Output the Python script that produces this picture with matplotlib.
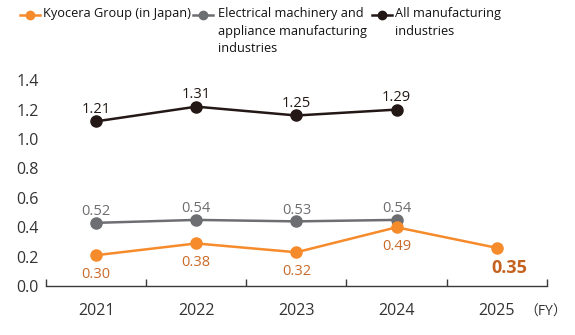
import matplotlib
matplotlib.use("Agg")
import matplotlib.pyplot as plt
from matplotlib.lines import Line2D
from matplotlib.transforms import blended_transform_factory
import numpy as np

plt.rcParams['font.family'] = ['Open Sans', 'Noto Sans CJK JP', 'DejaVu Sans']

years = ["2021", "2022", "2023", "2024", "2025"]
kyocera = [0.30, 0.38, 0.32, 0.49, 0.35]
electrical = [0.52, 0.54, 0.53, 0.54]
all_mfg = [1.21, 1.31, 1.25, 1.29]
yticks = [0.0, 0.2, 0.4, 0.6, 0.8, 1.0, 1.2, 1.4]

ORANGE = "#F68B2C"
ORANGE_TXT = "#C96A2A"
GRAY = "#6D6E71"
BLACK = "#231815"

# tick labels sit a little below the values they mark on this axis
shift = 0.09

fig = plt.figure(figsize=(5.75, 3.35), dpi=100)
ax = fig.add_axes([0.08, 0.146, 0.871, 0.63])

x = np.arange(len(years))
ax.plot(x[:len(all_mfg)], all_mfg, color=BLACK, lw=1.8, marker='o', ms=8)
ax.plot(x[:len(electrical)], electrical, color=GRAY, lw=1.8, marker='o', ms=8)
ax.plot(x, kyocera, color=ORANGE, lw=1.8, marker='o', ms=8)

for i, v in enumerate(all_mfg):
    ax.annotate(f"{v:.2f}", (i, v), xytext=(0, 6), textcoords='offset points',
                ha='center', va='baseline', fontsize=10.5, color=BLACK)
for i, v in enumerate(electrical):
    ax.annotate(f"{v:.2f}", (i, v), xytext=(0, 5.5), textcoords='offset points',
                ha='center', va='baseline', fontsize=10.5, color=GRAY)
for i, v in enumerate(kyocera):
    if i == len(kyocera) - 1:
        ax.annotate(f"{v:.2f}", (i, v), xytext=(9, -18), textcoords='offset points',
                    ha='center', va='baseline', fontsize=13, fontweight='bold',
                    color="#C4621F")
    else:
        ax.annotate(f"{v:.2f}", (i, v), xytext=(0, -16.5), textcoords='offset points',
                    ha='center', va='baseline', fontsize=10.5, color=ORANGE_TXT)

ax.set_xlim(-0.5, len(years) - 0.5)
ax.set_ylim(shift, 1.525)
ax.set_yticks([t + shift for t in yticks])
ax.set_yticklabels([f"{t:.1f}" for t in yticks])
ax.set_xticks(x)
ax.set_xticklabels(years)
ax.set_xticks(np.arange(-0.5, len(years), 1.0), minor=True)

for s in ['top', 'right', 'left']:
    ax.spines[s].set_visible(False)
ax.spines['bottom'].set_color('#3a3a3a')
ax.spines['bottom'].set_linewidth(1.0)
ax.tick_params(axis='y', length=0, pad=5, labelsize=11.5, labelcolor='#333333')
ax.tick_params(axis='x', which='major', length=0, pad=12, labelsize=11.5, labelcolor='#333333')
ax.tick_params(axis='x', which='minor', direction='in', length=5, width=1.0, color='#3a3a3a')

trans = blended_transform_factory(ax.transData, ax.transAxes)
ax.text(4.28, -0.09, "（FY）", transform=trans, ha='left', va='top',
        fontsize=10, color='#333333')

# legend across the top
legend_items = [
    (ORANGE, "Kyocera Group (in Japan)", 20, 43),
    (GRAY, "Electrical machinery and\nappliance manufacturing\nindustries", 193, 218),
    (BLACK, "All manufacturing\nindustries", 372, 395),
]
W, H = 575.0, 335.0
for color, label, hx, tx in legend_items:
    yl = 1 - 14.5 / H
    fig.add_artist(Line2D([hx / W, (hx + 20) / W], [yl, yl], color=color, lw=1.8,
                          transform=fig.transFigure))
    fig.add_artist(Line2D([(hx + 10) / W], [yl], color=color, marker='o', ms=6,
                          transform=fig.transFigure))
    fig.text(tx / W, 1 - 7.5 / H, label, ha='left', va='top', fontsize=9.2,
             color='#111111', linespacing=1.45, fontweight='medium')

fig.savefig("out.png", dpi=100)
